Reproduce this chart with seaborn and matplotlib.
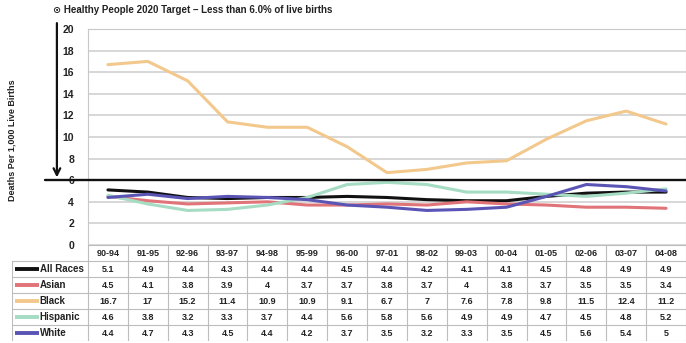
import pandas as pd
import matplotlib.pyplot as plt
import seaborn as sns

periods = ['90-94', '91-95', '92-96', '93-97', '94-98', '95-99', '96-00', '97-01',
           '98-02', '99-03', '00-04', '01-05', '02-06', '03-07', '04-08']
all_races = [5.1, 4.9, 4.4, 4.3, 4.4, 4.4, 4.5, 4.4, 4.2, 4.1, 4.1, 4.5, 4.8, 4.9, 4.9]
asian = [4.5, 4.1, 3.8, 3.9, 4, 3.7, 3.7, 3.8, 3.7, 4, 3.8, 3.7, 3.5, 3.5, 3.4]
black = [16.7, 17, 15.2, 11.4, 10.9, 10.9, 9.1, 6.7, 7, 7.6, 7.8, 9.8, 11.5, 12.4, 11.2]
hispanic = [4.6, 3.8, 3.2, 3.3, 3.7, 4.4, 5.6, 5.8, 5.6, 4.9, 4.9, 4.7, 4.5, 4.8, 5.2]
white = [4.4, 4.7, 4.3, 4.5, 4.4, 4.2, 3.7, 3.5, 3.2, 3.3, 3.5, 4.5, 5.6, 5.4, 5]

races = ['All Races', 'Asian', 'Black', 'Hispanic', 'White']
series = [all_races, asian, black, hispanic, white]
colors = {'All Races': '#111111', 'Asian': '#e07478', 'Black': '#f2c88c',
          'Hispanic': '#a6dcc3', 'White': '#5a55b4'}
target = 6

df = pd.DataFrame([(p, r, v) for r, vals in zip(races, series) for p, v in zip(periods, vals)],
                  columns=['period', 'race', 'rate'])

sns.set_style('white')
plt.rcParams['font.family'] = ['Liberation Sans', 'DejaVu Sans']

W, H = 686, 343
fig = plt.figure(figsize=(W / 100, H / 100), dpi=100)
ax = fig.add_axes([88 / W, 1 - 245 / H, (W - 88) / W, 216 / H])

sns.lineplot(data=df, x='period', y='rate', hue='race', palette=colors,
             hue_order=races, linewidth=2.2, legend=False, ax=ax, sort=False)

ax.set_xlim(-0.5, len(periods) - 0.5)
ax.set_ylim(0, 20)
ax.set_yticks(range(0, 21, 2))
ax.set_yticklabels([str(v) for v in range(0, 21, 2)], fontsize=7.5, fontweight='bold', color='#222222')
ax.set_xticks([])
ax.set_xlabel('')
ax.set_ylabel('')
ax.tick_params(axis='y', length=0, pad=10)
ax.grid(axis='y', color='#d4d4d4', linewidth=1.3)
ax.set_axisbelow(True)
for s in ['left', 'top', 'right']:
    ax.spines[s].set_color('#c8c8c8')
ax.spines['bottom'].set_visible(False)

# target line and arrow
ax.axhline(target, xmin=-0.072, xmax=1, color='#111111', linewidth=1.7, clip_on=False, zorder=5)
ax.annotate('', xy=(-0.052, target / 20), xytext=(-0.052, 1.04),
            xycoords='axes fraction', textcoords='axes fraction',
            arrowprops=dict(arrowstyle='->', color='#111111', lw=1.6, mutation_scale=12))

fig.text(53 / W, 1 - 10 / H, '\u2299 Healthy People 2020 Target \u2013 Less than 6.0% of live births',
         fontsize=7, fontweight='bold', color='#222222', va='center', ha='left')
fig.text(12 / W, 1 - 140 / H, 'Deaths Per 1,000 Live Births', rotation=90,
         fontsize=6.5, fontweight='bold', color='#222222', va='center', ha='center')

# data table
tab = fig.add_axes([12 / W, 1 - 341 / H, (W - 12) / W, 96 / H])
lab_w = 76 / ((W - 88) / len(periods))
tab.set_xlim(-0.5 - lab_w, len(periods) - 0.5)
tab.set_ylim(len(races) + 1, 0)
tab.axis('off')
grid_c = '#bdbdbd'
n = len(periods)
for r in range(len(races) + 2):
    x0 = -0.5 - lab_w if r >= 1 else -0.5
    tab.plot([x0, n - 0.5], [r, r], color=grid_c, lw=0.8)
for c in range(n + 1):
    tab.plot([c - 0.5, c - 0.5], [0, len(races) + 1], color=grid_c, lw=0.8)
tab.plot([-0.5 - lab_w] * 2, [1, len(races) + 1], color=grid_c, lw=0.8)

for i, p in enumerate(periods):
    tab.text(i, 0.55, p, ha='center', va='center', fontsize=6.5, fontweight='bold', color='#222222')
for r, (name, vals) in enumerate(zip(races, series), start=1):
    y = r + 0.5
    sx = -0.5 - lab_w + 0.07
    tab.plot([sx, sx + 0.6], [y, y], color=colors[name], lw=2.8, solid_capstyle='butt')
    tab.text(sx + 0.62, y, name, ha='left', va='center', fontsize=7, fontweight='bold', color='#222222')
    for i, v in enumerate(vals):
        tab.text(i, y, f'{v:g}', ha='center', va='center', fontsize=6.5, fontweight='bold', color='#222222')

fig.savefig('out.png', dpi=100)
